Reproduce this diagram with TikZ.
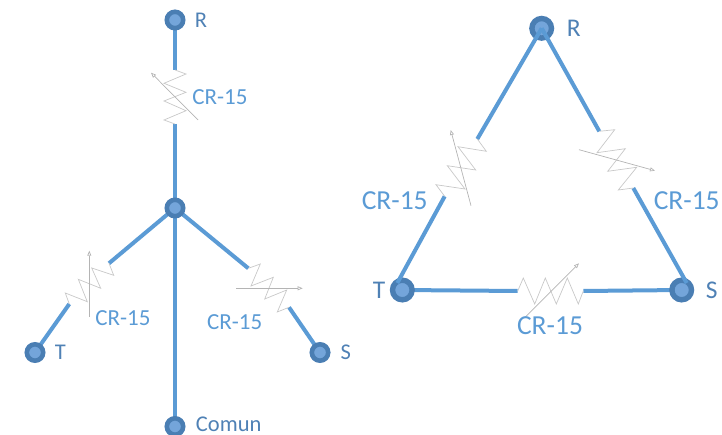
\documentclass[tikz,border=0pt]{standalone}
\usepackage{fontspec}
\setmainfont{Carlito}
\usetikzlibrary{arrows.meta,backgrounds}
\definecolor{wireblue}{HTML}{5B9BD5}
\definecolor{ringblue}{HTML}{4A7EB3}
\definecolor{coreblue}{HTML}{74A5DA}
\definecolor{labelblue}{HTML}{4F81B5}
\definecolor{zig}{HTML}{C8C8C8}
\tikzset{
  x=1pt,y=-1pt,
  wire/.style={draw=wireblue,line width=4pt},
  terminal/.style={circle,draw=ringblue,fill=coreblue,line width=4.6pt,minimum size=16.4pt,inner sep=0pt},
  bigterminal/.style={circle,draw=ringblue,fill=coreblue,line width=5.4pt,minimum size=19.6pt,inner sep=0pt},
  zigzag/.style={draw=zig,line width=0.7pt,line join=miter},
  adjust/.style={draw=zig!90!black,line width=0.7pt,-{Triangle[open,length=5pt,width=4pt]}},
  tname/.style={text=labelblue,inner sep=0pt,font=\fontsize{22.5}{22.5}\selectfont},
  tnamebig/.style={text=labelblue,inner sep=0pt,font=\fontsize{25.5}{25.5}\selectfont},
  rating/.style={text=wireblue,inner sep=0pt,font=\fontsize{23}{23}\selectfont},
  ratingbig/.style={text=wireblue,inner sep=0pt,font=\fontsize{27.5}{27.5}\selectfont},
}
\begin{document}
\begin{tikzpicture}
\useasboundingbox (0,0) rectangle (722,435);
% ---- star
\node[terminal] (sR) at (175,20) {};
\node[terminal] (sC) at (175,208) {};
\node[terminal] (sT) at (35,352.5) {};
\node[terminal] (sS) at (320,352.5) {};
\node[terminal] (sN) at (175,426.5) {};
\coordinate (a1) at (175,70);   \coordinate (a2) at (175,124);
\coordinate (b1) at (109,263.3);\coordinate (b2) at (69.3,304);
\coordinate (c1) at (248.3,268.3);\coordinate (c2) at (289,307.3);
\begin{scope}[on background layer]
\draw[wire] (sR.center) -- (a1);
\draw[wire] (a2) -- (sC.center);
\draw[wire] (sC.center) -- (b1);
\draw[wire] (b2) -- (sT.center);
\draw[wire] (sC.center) -- (c1);
\draw[wire] (c2) -- (sS.center);
\draw[wire] (sC.center) -- (sN.center);
\end{scope}
\draw[zigzag] (a1) -- (186,74) -- (164,83.3) -- (186,92.3) -- (164,101) -- (186,110.7) -- (164,120) -- (a2);
\draw[adjust] (198,120) -- (151,72.7);
\draw[zigzag] (b1) -- (113.7,275.3) -- (91.7,268) -- (100.7,288.3) -- (78.3,279.3) -- (87.3,301.7) -- (65.3,293) -- (b2);
\draw[adjust] (89.3,316.7) -- (89.3,250.7);
\draw[zigzag] (c1) -- (260.3,264) -- (251,286) -- (273.3,277.3) -- (264.7,299) -- (286.7,290) -- (277.3,312) -- (c2);
\draw[adjust] (236,288.3) -- (302.7,288.3);
\node[tname] (lR) at (201,20) {R};
\node[tname] (lT) at (60.3,352.7) {T};
\node[tname] (lS) at (345.7,352.7) {S};
\node[tname] (lN) at (228.7,424.5) {Comun};
\node[rating] (r1) at (220,97) {CR-15};
\node[rating] (r2) at (123,317.7) {CR-15};
\node[rating] (r3) at (234.7,321.7) {CR-15};
% ---- delta
\node[bigterminal] (dR) at (541.7,28.3) {};
\node[bigterminal] (dT) at (402.3,290) {};
\node[bigterminal] (dS) at (681.7,290) {};
\coordinate (d1) at (477.3,139);  \coordinate (d2) at (444.7,196.3);
\coordinate (e1) at (599.3,131.3);\coordinate (e2) at (633.3,188);
\coordinate (f1) at (517.7,291);  \coordinate (f2) at (583.3,291);
\draw[wire] (dR.center) -- (d1);
\draw[wire] (d2) -- ([shift={(-5,-7)}]dT.center);
\draw[wire] (dR.center) -- (e1);
\draw[wire] (e2) -- ([shift={(5,-7)}]dS.center);
\begin{scope}[on background layer]
\draw[wire] (dT.center) -- (f1);
\draw[wire] (f2) -- (dS.center);
\end{scope}
\draw[zigzag] (d1) -- (486.3,151.3) -- (458,146.7) -- (475.7,170) -- (447.3,165.7) -- (465,189) -- (436,184.7) -- (d2);
\draw[adjust] (471,205.7) -- (450.7,130);
\draw[zigzag] (e1) -- (614.7,129.7) -- (597,152.7) -- (625.3,148.7) -- (607.7,171.3) -- (636.7,167.3) -- (618.3,190) -- (e2);
\draw[adjust] (579,149.7) -- (655,170.7);
\draw[zigzag] (f1) -- (523.3,278) -- (534.7,304) -- (545.3,278) -- (556.3,304) -- (567.3,278) -- (578.3,304) -- (f2);
\draw[adjust] (525,317.3) -- (579,263.3);
\node[tnamebig] (mR) at (573.7,28.3) {R};
\node[tnamebig] (mT) at (379,290.7) {T};
\node[tnamebig] (mS) at (711.7,290) {S};
\node[ratingbig] (q1) at (394.7,200.7) {CR-15};
\node[ratingbig] (q2) at (686.7,200.7) {CR-15};
\node[ratingbig] (q3) at (550,326) {CR-15};
\end{tikzpicture}
\end{document}
